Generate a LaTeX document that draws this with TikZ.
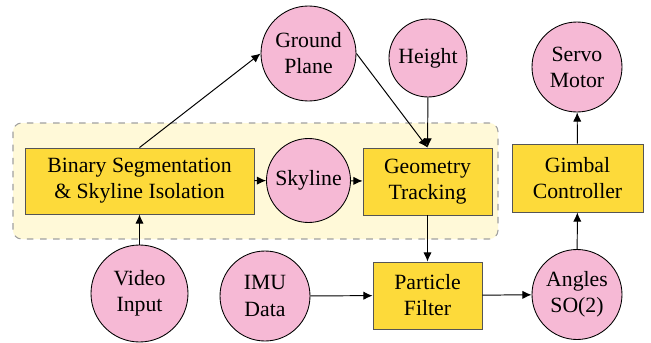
\documentclass[tikz,border=0pt]{standalone}
\usepackage{fontspec}
\setmainfont{Liberation Serif}
\usetikzlibrary{arrows.meta}
\definecolor{boxfill}{HTML}{FDDA3A}
\definecolor{boxdraw}{HTML}{555555}
\definecolor{circfill}{HTML}{F6B9D5}
\definecolor{groupfill}{HTML}{FFF9D8}
\definecolor{groupdraw}{HTML}{A0A0A0}
\tikzset{
  procbox/.style={draw=boxdraw, fill=boxfill, align=center, inner sep=0pt, font=\fontsize{10pt}{12pt}\selectfont},
  datacirc/.style={circle, draw=black, fill=circfill, align=center, inner sep=0pt, font=\fontsize{10pt}{12pt}\selectfont},
  arr/.style={-{Latex[length=4.2pt,width=3.8pt]}, line width=0.45pt},
  group/.style={draw=groupdraw, fill=groupfill, dashed, rounded corners=4pt, line width=0.5pt}
}
\begin{document}
\begin{tikzpicture}[x=0.4598pt, y=-0.4598pt]
\useasboundingbox (0,0) rectangle (651,343);
\draw[group] (13,123) rectangle (498,239);

\node[procbox, minimum width=105.3pt, minimum height=30.35pt] (bin) at (139.5,181) {Binary Segmentation\\\& Skyline Isolation};
\node[procbox, minimum width=59.3pt, minimum height=30.8pt] (geo) at (427.5,181.5) {Geometry\\Tracking};
\node[procbox, minimum width=50.1pt, minimum height=30.8pt] (pf) at (427.5,295.5) {Particle\\Filter};
\node[procbox, minimum width=60.2pt, minimum height=31.3pt] (gim) at (577.5,178) {Gimbal\\Controller};

\node[datacirc, minimum size=43.68pt] (gp) at (308.5,53.5) {Ground\\Plane};
\node[datacirc, minimum size=35.86pt] (ht) at (428,58) {Height};
\node[datacirc, minimum size=41.38pt] (sm) at (577,67) {Servo\\Motor};
\node[datacirc, minimum size=38.62pt] (sky) at (308.5,180.5) {Skyline};
\node[datacirc, minimum size=44.6pt] (vid) at (139.5,293.5) {Video\\Input};
\node[datacirc, minimum size=41.38pt] (imu) at (265,296) {IMU\\Data};
\node[datacirc, minimum size=41.38pt] (ang) at (577,294.5) {Angles\\SO(2)};

\draw[arr] (vid) -- (bin);
\draw[arr] (bin.north) -- (gp.west);
\draw[arr] (bin) -- (sky);
\draw[arr] (sky) -- (geo);
\draw[arr] (gp.east) -- (geo.north);
\draw[arr] (ht) -- (geo);
\draw[arr] (geo) -- (pf);
\draw[arr] (imu) -- (pf);
\draw[arr] (pf) -- (ang);
\draw[arr] (ang) -- (gim);
\draw[arr] (gim) -- (sm);
\end{tikzpicture}
\end{document}
